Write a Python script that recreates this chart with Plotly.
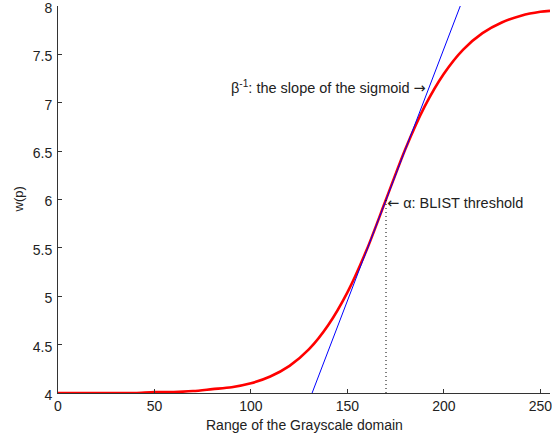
import plotly.graph_objects as go

# Sigmoid curve w(p)
p_vals = [0, 10, 20, 30, 40, 50, 60, 70, 80, 90, 100, 110, 120, 130, 140, 150,
          160, 170, 180, 190, 200, 210, 220, 230, 240, 250, 255]
w_vals = [4.00, 4.00, 4.00, 4.00, 4.00, 4.01, 4.01, 4.02, 4.04, 4.06, 4.10, 4.17,
          4.28, 4.45, 4.70, 5.04, 5.48, 6.00, 6.52, 6.96, 7.30, 7.55, 7.72, 7.83,
          7.90, 7.94, 7.95]

# Tangent line at the threshold
tangent_p = [131.7, 208.5]
tangent_w = [4.0, 8.0]

# Threshold marker
alpha = 170
alpha_w = [4.0, 6.0]

x_ticks = [0, 50, 100, 150, 200, 250]
y_ticks = [4, 4.5, 5, 5.5, 6, 6.5, 7, 7.5, 8]
y_tick_text = ["4", "4.5", "5", "5.5", "6", "6.5", "7", "7.5", "8"]

FAM = "Liberation Sans, Arial, sans-serif"
ARROW = "<span style='font-family:DejaVu Sans'>{}</span>"

fig = go.Figure()
fig.add_trace(go.Scatter(x=p_vals, y=w_vals, mode="lines",
                         line=dict(color="#ff0000", width=2.6, shape="spline", smoothing=0.8),
                         hoverinfo="skip", cliponaxis=False))
fig.add_trace(go.Scatter(x=tangent_p, y=tangent_w, mode="lines", line=dict(color="#0000ff", width=1),
                         hoverinfo="skip"))
fig.add_trace(go.Scatter(x=[alpha, alpha], y=alpha_w, mode="lines",
                         line=dict(color="black", width=1, dash="1px,3px"), hoverinfo="skip"))

font = dict(family=FAM, size=14.5, color="#222222")

fig.add_annotation(x=192, y=7.16, text="β<sup>-1</sup>: the slope of the sigmoid " + ARROW.format("→"),
                   showarrow=False, xanchor="right", yanchor="middle", font=font)
fig.add_annotation(x=169.3, y=5.96, text=ARROW.format("←") + " α: BLIST threshold", showarrow=False,
                   xanchor="left", yanchor="middle", font=font)

# axis titles
fig.add_annotation(xref="paper", yref="paper", x=0.5, y=0, yshift=-32, text="Range of the Grayscale domain",
                   showarrow=False, xanchor="center", yanchor="middle", font=dict(family=FAM, size=14, color="#222222"))
fig.add_annotation(xref="paper", yref="paper", x=0, y=0.5, xshift=-40, text="w(p)", textangle=-90,
                   showarrow=False, xanchor="center", yanchor="middle", font=dict(family=FAM, size=13, color="#222222"))

axis_common = dict(showgrid=False, zeroline=False, showline=True, linecolor="#333333", linewidth=1,
                   ticks="inside", ticklen=4, tickcolor="#333333", automargin=False,
                   ticklabeloverflow="allow",
                   tickfont=dict(family=FAM, size=14, color="#222222"),
                   mirror=False)

fig.update_layout(
    width=552, height=440,
    margin=dict(l=58, r=2, t=6, b=47),
    paper_bgcolor="white", plot_bgcolor="white",
    showlegend=False,
    xaxis=dict(range=[0, 255], tickvals=x_ticks, ticktext=[str(t) for t in x_ticks], **axis_common),
    yaxis=dict(range=[4, 8], tickvals=y_ticks, ticktext=y_tick_text, ticklabelstandoff=2,
               ticklabelshift=2, **axis_common),
)

fig.write_html("out.html", config={"displayModeBar": False},
               post_script="document.body.style.margin='0px';document.body.style.overflow='hidden';")
